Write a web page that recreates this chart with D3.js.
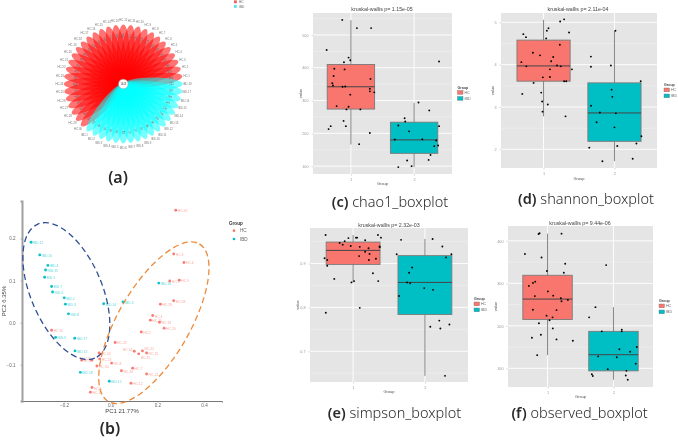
<!DOCTYPE html>
<html><head><meta charset="utf-8">
<script src="https://cdn.jsdelivr.net/npm/d3@7/dist/d3.min.js"></script>
<style>html,body{margin:0;padding:0;background:#fff}svg{display:block}
text{font-family:"Liberation Sans",Arial,sans-serif}
.cap{font-family:"Noto Sans",sans-serif;fill:#2a2a2a;filter:blur(0.2px)}
.soft{filter:blur(0.4px)}</style></head><body>
<svg id="c" width="678" height="440"></svg>
<script>
// ---- (a) flower
const petalNames=["IBD.18","IBD.17","IBD.16","IBD.15","IBD.14","IBD.13","IBD.12","IBD.11","IBD.10","IBD.9","IBD.8","IBD.7","IBD.6","IBD.5","IBD.4","IBD.3","IBD.2","IBD.1",
"HC.30","HC.29","HC.28","HC.27","HC.26","HC.25","HC.24","HC.23","HC.22","HC.21","HC.20","HC.19","HC.18","HC.17","HC.16","HC.15","HC.14","HC.13","HC.12","HC.11","HC.10","HC.9","HC.8","HC.7","HC.6","HC.5","HC.4","HC.3","HC.2","HC.1"];
const petalCounts=[212,187,164,145,132,118,101,96,88,84,97,79,73,92,81,76,69,104,
233,260,218,247,296,271,205,182,238,169,226,194,311,257,244,199,276,302,265,213,281,229,173,253,318,241,207,289,222,268];
const coreCount="1443";
// ---- (b) PCoA
const hcNames=["HC.26","HC.3","HC.6","HC.9","HC.1","HC.28","HC.29","HC.4","HC.10","HC.18","HC.20","HC.2","HC.23","HC.14","HC.22","HC.25","HC.15","HC.11","HC.24","HC.27","HC.17","HC.13","HC.8","HC.30","HC.7","HC.16","HC.21","HC.12","HC.5","HC.19"];
const hcPC1=[.279,.27,.314,.294,.253,.27,.213,.18,.17,.209,.229,.131,.019,.101,.136,.12,.154,-.253,-.05,-.124,-.081,-.047,.004,-.059,.094,.046,.154,.087,-.08,-.087];
const hcPC2=[.267,.163,.143,.101,.099,.052,.044,.017,.006,.001,-.013,-.022,-.047,-.068,-.067,-.074,-.072,-.018,-.072,-.089,-.089,-.086,-.096,-.103,-.108,-.114,-.122,-.144,-.154,-.165];
const ibdNames=["IBD.11","IBD.10","IBD.4","IBD.15","IBD.1","IBD.7","IBD.6","IBD.2","IBD.3","IBD.8","IBD.14","IBD.5","IBD.16","IBD.9","IBD.17","IBD.13","IBD.18","IBD.12"];
const ibdPC1=[-.341,-.304,-.269,-.279,-.283,-.253,-.249,-.199,-.194,-.181,-.03,.053,.206,-.236,-.154,-.153,-.13,-.006];
const ibdPC2=[.191,.161,.136,.125,.108,.086,.073,.059,.044,.021,.045,.049,.094,-.035,-.037,-.067,-.118,-.139];
const pcXTicks=[-0.2,0,0.2,0.4], pcYTicks=[-0.1,0,0.1,0.2];
// ---- boxplots: stats are [low whisker, q1, median, q3, high whisker]
const chaoHCBox=[166,274,342,410,545], chaoIBDBox=[97,139,180,234,293];
const chaoHC=[[.863,546],[1.095,521],[1.32,521],[.616,454],[.963,431],[.99,423],[.89,417],[.737,397],[.9,395],[.726,375],[1.31,366],[.705,353],[.716,346],[.868,342],[.91,343],[1.3,336],[1.3,328],[1.37,325],[.99,318],[.774,283],[.963,281],[.93,273],[1.15,273],[.884,238],[.68,222],[.647,213],[.92,222],[1.3,201],[1.13,167]];
const chaoIBD=[[2.395,419],[2.07,294],[2.24,270],[1.85,246],[1.86,236],[1.75,224],[2.395,222],[1.92,206],[2.13,182],[1.695,181],[2.35,178],[2.38,163],[2.32,161],[2.26,134],[2.23,119],[1.89,117],[1.96,100],[1.75,97]];
const shanHCBox=[2.78,3.61,3.97,4.58,5.06], shanIBDBox=[1.72,2.19,2.86,3.57,4.80];
const shanHC=[[1.234,5.02],[1.29,5.07],[1.07,4.86],[1.047,4.8],[.715,4.72],[.752,4.65],[1.36,4.76],[1.037,4.62],[1.23,4.47],[.85,4.28],[.95,4.22],[1.136,4.18],[1.107,4.08],[.687,4.06],[1.19,3.98],[.757,3.96],[1.243,3.96],[1.4,3.89],[1.09,3.89],[.99,3.7],[1.09,3.71],[1.29,3.61],[1.32,3.61],[.86,3.57],[.7,3.31],[.967,3.34],[.98,3.13],[1.06,3.06],[.986,2.89],[1.31,2.78]];
const shanIBD=[[2.014,4.8],[1.668,4.19],[1.95,3.98],[1.668,3.95],[2.37,3.61],[1.96,3.41],[1.97,3.24],[1.67,3.03],[1.794,2.87],[2.02,2.85],[1.748,2.64],[2,2.52],[2.38,2.31],[2.31,2.14],[2.04,2.08],[1.645,2.04],[2.257,1.78],[1.83,1.72]];
const simpHCBox=[.857,.898,.93,.949,.965], simpIBDBox=[.644,.784,.857,.918,.956];
const simpHC=[[.617,.965],[.935,.958],[1.04,.959],[1.056,.959],[1.346,.965],[1.388,.959],[1.168,.953],[.883,.951],[.813,.947],[.855,.943],[.967,.94],[1.093,.938],[1.215,.935],[1.37,.939],[1.37,.937],[1.168,.927],[1.229,.922],[1.084,.917],[.603,.912],[.64,.908],[1.22,.908],[1.318,.911],[.64,.895],[1.276,.878],[.738,.865],[1.014,.86],[.977,.857],[1.35,.86],[1.093,.799],[.62,.788]];
const simpIBD=[[1.668,.954],[2.107,.956],[2.243,.939],[1.607,.921],[2.369,.921],[2.294,.914],[1.822,.891],[1.78,.879],[1.752,.857],[1.794,.855],[1.99,.844],[2.112,.84],[1.64,.826],[2.2,.77],[2.341,.761],[2.075,.756],[2.215,.752],[2.28,.644]];
const obsHCBox=[131,215,263,319,417], obsIBDBox=[73,94,132,187,244];
const obsHC=[[.864,416],[.879,418],[1.212,417],[.657,369],[.909,361],[1.268,346],[.99,329],[1.247,325],[.813,304],[.778,301],[.717,294],[1.005,281],[1.086,271],[.808,270],[1.202,265],[1.212,258],[1.308,261],[.778,238],[1.136,237],[.985,224],[1.076,220],[1.03,213],[.869,206],[1.08,194],[.899,179],[.763,172],[1.136,168],[1.384,165],[.843,131]];
const obsIBD=[[1.889,343],[1.727,244],[1.631,220],[2.126,191],[1.823,187],[2.126,187],[2.354,150],[2.09,145],[2.253,139],[1.768,128],[2.05,126],[2.338,111],[1.914,98],[2.197,94],[1.672,86],[1.687,82],[2.187,83],[2.217,73]];
const chaoTicks=[100,200,300,400,500], shanTicks=[2,3,4,5], simpTicks=[.7,.8,.9], obsTicks=[100,200,300,400];
const groups=["HC","IBD"];

const svg=d3.select("#c");
const RED="#f8766d", TEAL="#00bfc4";

// ------------ panel (a)
(function(){
  const g=svg.append("g").attr("class","soft").attr("transform","translate(123.3,84)");
  const ang=d3.scalePoint().domain(petalNames).range([0,352.5]);
  const rad=d3.scaleLinear().domain([0,1]).range([0,59.5]);
  const isHC=n=>n.startsWith("HC");
  const order=[...petalNames.filter(isHC),...petalNames.filter(n=>!isHC(n))];
  g.selectAll("ellipse.p").data(order).join("ellipse").attr("class","p")
    .attr("cx",rad(.5)).attr("cy",0).attr("rx",rad(.5)).attr("ry",6.4)
    .attr("transform",d=>`rotate(${ang(d)})`)
    .attr("fill",d=>isHC(d)?"#ff0000":"#00ffff").attr("fill-opacity",.55);
  const pol=(a,r)=>[r*Math.cos(a*Math.PI/180),r*Math.sin(a*Math.PI/180)];
  g.selectAll("text.c").data(petalNames).join("text").attr("class","c")
    .attr("transform",d=>{const [x,y]=pol(ang(d),rad(.81));return `translate(${x},${y}) rotate(${ang(d)})`;})
    .attr("text-anchor","middle").attr("dy","0.35em").attr("font-size",2.6).attr("fill","#555")
    .text((d,i)=>petalCounts[i]);
  g.selectAll("text.n").data(petalNames).join("text").attr("class","n")
    .attr("x",d=>pol(ang(d),rad(1.075))[0]).attr("y",d=>pol(ang(d),rad(1.075))[1])
    .attr("text-anchor","middle").attr("dy","0.35em").attr("font-size",2.8).attr("fill","#777")
    .text(d=>d);
  g.append("circle").attr("r",4.8).attr("fill","#fff").attr("stroke","#999").attr("stroke-width",.5);
  g.append("text").attr("text-anchor","middle").attr("dy","0.35em").attr("font-size",2.6).attr("fill","#444").text(coreCount);
  const lg=svg.append("g").attr("class","soft");
  groups.forEach((n,i)=>{
    lg.append("rect").attr("x",234).attr("y",.4+i*4.7).attr("width",2.8).attr("height",2.8).attr("fill",i?"#55e8e8":"#f25c5c");
    lg.append("text").attr("x",239).attr("y",2.9+i*4.7).attr("font-size",3.2).attr("fill","#666").text(n);
  });
})();

// ------------ panel (b)
(function(){
  const g=svg.append("g").attr("class","soft");
  const x=d3.scaleLinear().domain([-.38,.477]).range([22,222]);
  const y=d3.scaleLinear().domain([-.186,.289]).range([401,201]);
  const ax=g.append("g").attr("transform","translate(0,401)").call(d3.axisBottom(x).tickValues(pcXTicks).tickSize(1.5).tickFormat(d3.format(".1f")));
  const ay=g.append("g").attr("transform","translate(22,0)").call(d3.axisLeft(y).tickValues(pcYTicks).tickSize(1.5).tickFormat(d3.format(".1f")));
  ax.select(".domain").attr("stroke","#777").attr("stroke-width",1);
  ay.select(".domain").attr("stroke","#a0a0a0").attr("stroke-width",2);
  [ax,ay].forEach(a=>{a.selectAll(".tick line").attr("stroke","#777").attr("stroke-width",.5);
    a.selectAll("text").attr("font-size",4.6).attr("fill","#666").attr("font-family","Liberation Sans");});
  ax.selectAll("text").attr("dy","0.4em");
  ay.selectAll("text").attr("dx","-0.4em");
  g.append("text").attr("x",122).attr("y",413).attr("text-anchor","middle").attr("font-size",6).attr("fill","#444").text("PC1 21.77%");
  g.append("text").attr("transform","translate(6,301) rotate(-90)").attr("text-anchor","middle").attr("font-size",6).attr("fill","#444").text("PC2 6.35%");
  const nudge={"HC.14":[-4,-2,"end"],"HC.22":[0,-2.4,"start"],"HC.25":[0,3,"start"],"HC.17":[-4,-2,"end"]};
  const series=[[hcNames,hcPC1,hcPC2,RED],[ibdNames,ibdPC1,ibdPC2,TEAL]];
  series.forEach(([names,xs,ys,col])=>{
    names.forEach((n,i)=>{
      const nd=nudge[n]||[0,0,"start"];
      g.append("text").attr("x",x(xs[i])+2+nd[0]).attr("y",y(ys[i])+2+nd[1]).attr("text-anchor",nd[2]).attr("font-size",3.4).attr("fill",col).attr("fill-opacity",.65).text(n);
      g.append("circle").attr("cx",x(xs[i])).attr("cy",y(ys[i])).attr("r",1.45).attr("fill",col).attr("fill-opacity",.95);
    });
  });
  const ell=[{c:[-.19,.075],a:.312,b:.153,rot:67,col:"#2f4f94"},{c:[.185,.0],a:.39,b:.154,rot:-60,col:"#ee8a3a"}];
  ell.forEach(e=>{
    const px=x(e.c[0]),py=y(e.c[1]);
    g.append("ellipse").attr("cx",px).attr("cy",py)
      .attr("rx",x(e.a)-x(0)).attr("ry",x(e.b)-x(0))
      .attr("transform",`rotate(${e.rot},${px},${py})`)
      .attr("fill","none").attr("stroke",e.col).attr("stroke-width",1.3).attr("stroke-dasharray","6 3.5");
  });
  g.append("text").attr("x",229).attr("y",225).attr("font-size",4.6).attr("font-weight","bold").attr("fill","#333").text("Group");
  groups.forEach((n,i)=>{
    g.append("circle").attr("cx",234).attr("cy",230.7+i*8.3).attr("r",1.35).attr("fill",i?TEAL:RED);
    g.append("text").attr("x",240).attr("y",232.4+i*8.3).attr("font-size",4.6).attr("fill","#666").text(n);
  });
})();

// ------------ boxplots
function boxPanel(o){
  const g=svg.append("g").attr("class","soft");
  const [l,t,r,b]=o.rect;
  const x=d3.scaleLinear().domain([.4,2.6]).range([l,r]);
  const y=d3.scaleLinear().domain(o.dom).range([b,t]);
  g.append("rect").attr("x",l).attr("y",t).attr("width",r-l).attr("height",b-t).attr("fill","#e5e5e5");
  const step=o.ticks[1]-o.ticks[0];
  const minor=[o.ticks[0]-step/2,...o.ticks.map(d=>d+step/2)].filter(d=>d>o.dom[0]&&d<o.dom[1]);
  g.selectAll("line.mi").data(minor).join("line").attr("class","mi").attr("x1",l).attr("x2",r).attr("y1",y).attr("y2",y).attr("stroke","#f2f2f2").attr("stroke-width",.5);
  g.selectAll("line.ma").data(o.ticks).join("line").attr("class","ma").attr("x1",l).attr("x2",r).attr("y1",y).attr("y2",y).attr("stroke","#fff").attr("stroke-width",.9);
  g.selectAll("line.mv").data([1,2]).join("line").attr("class","mv").attr("x1",x).attr("x2",x).attr("y1",t).attr("y2",b).attr("stroke","#fff").attr("stroke-width",.9);
  const ay=g.append("g").attr("transform",`translate(${l},0)`).call(d3.axisLeft(y).tickValues(o.ticks).tickSize(1.5).tickFormat(o.fmt));
  const ax=g.append("g").attr("transform",`translate(0,${b})`).call(d3.axisBottom(x).tickValues([1,2]).tickSize(1.5).tickFormat(d3.format("d")));
  [ax,ay].forEach(a=>{a.select(".domain").remove();a.selectAll(".tick line").attr("stroke","#999").attr("stroke-width",.4);
    a.selectAll("text").attr("font-size",3.8).attr("fill","#999").attr("font-family","Liberation Sans");});
  [[1,o.hcBox,RED],[2,o.ibdBox,TEAL]].forEach(([c,s,col])=>{
    g.append("line").attr("x1",x(c)).attr("x2",x(c)).attr("y1",y(s[0])).attr("y2",y(s[4])).attr("stroke","#777").attr("stroke-width",.9);
    g.append("rect").attr("x",x(c-.375)).attr("width",x(c+.375)-x(c-.375)).attr("y",y(s[3])).attr("height",y(s[1])-y(s[3])).attr("fill",col).attr("stroke","#7a7a7a").attr("stroke-width",.9);
    g.append("line").attr("x1",x(c-.375)).attr("x2",x(c+.375)).attr("y1",y(s[2])).attr("y2",y(s[2])).attr("stroke","#444").attr("stroke-width",1);
  });
  g.selectAll("circle").data([...o.hc,...o.ibd]).join("circle").attr("cx",d=>x(d[0])).attr("cy",d=>y(d[1])).attr("r",.95).attr("fill","#000");
  g.append("text").attr("x",o.titleX).attr("y",o.titleY).attr("text-anchor","middle").attr("font-size",5.3).attr("fill","#444").text(o.title);
  g.append("text").attr("x",(l+r)/2+o.gx).attr("y",o.gy).attr("text-anchor","middle").attr("font-size",4).attr("fill","#555").text("Group");
  g.append("text").attr("transform",`translate(${o.vx},${(t+b)/2}) rotate(-90)`).attr("text-anchor","middle").attr("font-size",4).attr("fill","#555").text("value");
  const [kx,ky]=o.key;
  g.append("text").attr("x",kx).attr("y",ky-2).attr("font-size",3.6).attr("font-weight","bold").attr("fill","#444").text("Group");
  groups.forEach((n,i)=>{
    g.append("rect").attr("x",kx).attr("y",ky+i*6).attr("width",5.5).attr("height",3.8).attr("fill",i?TEAL:RED).attr("stroke","#777").attr("stroke-width",.4);
    g.append("text").attr("x",kx+7).attr("y",ky+3.3+i*6).attr("font-size",3.6).attr("fill","#666").text(n);
  });
}
boxPanel({rect:[313,13,452,174],dom:[76,567],ticks:chaoTicks,fmt:d3.format("d"),hcBox:chaoHCBox,ibdBox:chaoIBDBox,hc:chaoHC,ibd:chaoIBD,
  title:"kruskal-wallis  p= 1.15e-05",titleX:382,titleY:11,gx:0,gy:185,vx:302,key:[457.5,90.5]});
boxPanel({rect:[501,13,657,168],dom:[1.56,5.22],ticks:shanTicks,fmt:d3.format("d"),hcBox:shanHCBox,ibdBox:shanIBDBox,hc:shanHC,ibd:shanIBD,
  title:"kruskal-wallis  p= 2.11e-04",titleX:578,titleY:11,gx:0,gy:179.5,vx:494,key:[664,88]});
boxPanel({rect:[310,228,468,382],dom:[.63,.981],ticks:simpTicks,fmt:d3.format(".1f"),hcBox:simpHCBox,ibdBox:simpIBDBox,hc:simpHC,ibd:simpIBD,
  title:"kruskal-wallis  p= 2.32e-03",titleX:389,titleY:226.5,gx:0,gy:392.5,vx:299,key:[474,302]});
boxPanel({rect:[508,226,653,387],dom:[56,435],ticks:obsTicks,fmt:d3.format("d"),hcBox:obsHCBox,ibdBox:obsIBDBox,hc:obsHC,ibd:obsIBD,
  title:"kruskal-wallis  p= 9.44e-06",titleX:580,titleY:224.5,gx:0,gy:397.5,vx:497,key:[659,304]});

// ------------ captions
[["(a)","",118,183,16],["(b)","",110,434,16],
 ["(c)"," chao1_boxplot",390,207,14.5],["(d)"," shannon_boxplot",586,204,14.5],
 ["(e)"," simpson_boxplot",394.5,418,14.5],["(f)"," observed_boxplot",579.5,418,14.5]].forEach(([a,b,x,y,s])=>{
  const t=svg.append("text").attr("class","cap").attr("x",x).attr("y",y).attr("text-anchor","middle").attr("font-size",s);
  t.append("tspan").attr("font-weight",600).text(a);
  if(b) t.append("tspan").attr("font-weight",300).text(b);
});
</script></body></html>
